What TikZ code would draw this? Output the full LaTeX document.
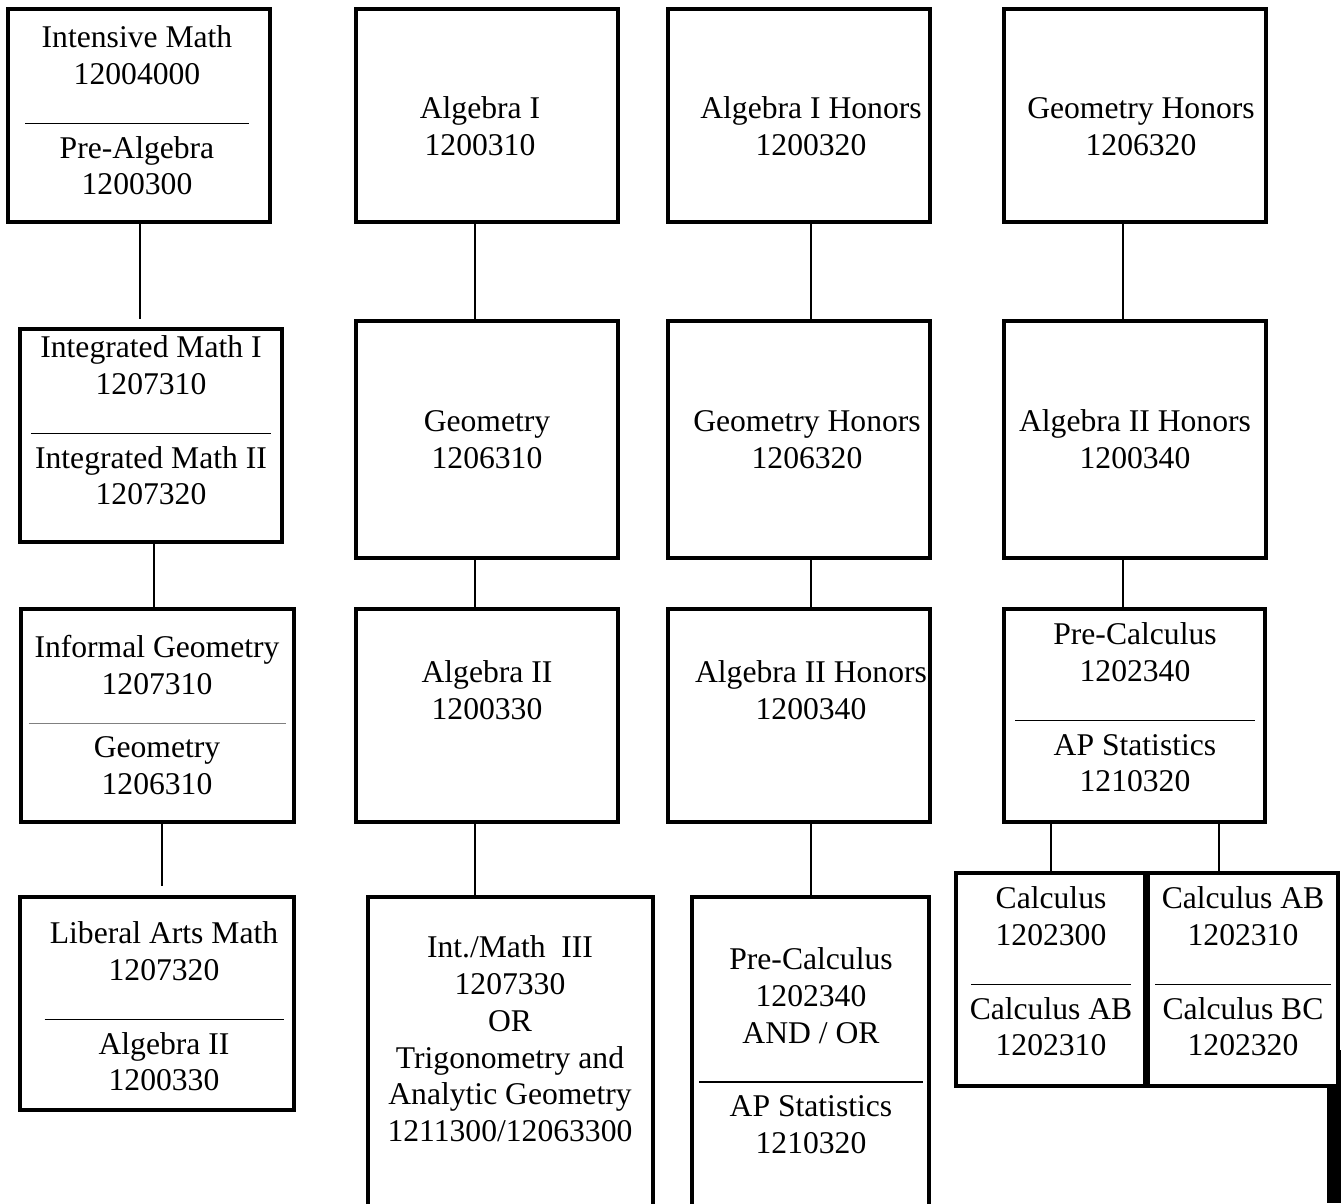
\documentclass[tikz,border=0pt]{standalone}
\usepackage{fontspec}
\setmainfont{Liberation Serif}
\usepackage{tikz}
\usetikzlibrary{fit, positioning}

\newdimen\unitpx \unitpx=0.02cm
\newcommand{\capstrut}{\rule{0pt}{16pt}}
\newcommand{\sepline}[1]{\rule[-1.7pt]{#1\unitpx}{0.9pt}}

\begin{document}
\begin{tikzpicture}[x=0.02cm, y=-0.02cm,
    box/.style={draw, line width=1.8pt, inner sep=0pt},
    txt/.style={anchor=north, yshift=16pt, inner sep=0pt, align=center, font=\fontsize{18}{21}\selectfont},
    link/.style={line width=1.4pt}
]
\clip (0,0) rectangle (1341,1203);

% Column 1 (intensive track)
\node[box, fit={(8,9) (270,222)}] (b1) {};
\node[box, fit={(20,329) (282,542)}] (b2) {};
\node[box, fit={(21,609) (294,822)}] (b3) {};
\node[box, fit={(20,897) (294,1110)}] (b4) {};
\node[txt] (b1t) at (137,47) {\capstrut Intensive Math\\12004000\\\sepline{224}\\Pre-Algebra\\1200300};
\node[txt] (b2t) at (151,357) {\capstrut Integrated Math I\\1207310\\\sepline{240}\\Integrated Math II\\1207320};
\node[txt] (b3t) at (157,657) {\capstrut Informal Geometry\\1207310\\[-3.1pt]{\color{gray}\rule[1pt]{257\unitpx}{0.6pt}}\\[-3.1pt]Geometry\\1206310};
\node[txt] (b4t) at (164,943) {\capstrut Liberal Arts Math\\1207320\\\sepline{239}\\Algebra II\\1200330};

% Column 2 (standard track)
\node[box, fit={(356,9) (618,222)}] (c1) {};
\node[box, fit={(356,321) (618,558)}] (c2) {};
\node[box, fit={(356,609) (618,822)}] (c3) {};
\node[box, fit={(368,897) (653,1220)}] (c4) {};
\node[txt] (c1t) at (480,118) {\capstrut Algebra I\\1200310};
\node[txt] (c2t) at (487,431) {\capstrut Geometry\\1206310};
\node[txt] (c3t) at (487,682) {\capstrut Algebra II\\1200330};
\node[txt] (c4t) at (510,957) {\capstrut Int./Math\ \ III\\1207330\\OR\\Trigonometry and\\Analytic Geometry\\1211300/12063300};

% Column 3 (honors track)
\node[box, fit={(668,9) (930,222)}] (d1) {};
\node[box, fit={(668,321) (930,558)}] (d2) {};
\node[box, fit={(668,609) (930,822)}] (d3) {};
\node[box, fit={(692,897) (929,1220)}] (d4) {};
\node[txt] (d1t) at (811,118) {\capstrut Algebra I Honors\\1200320};
\node[txt] (d2t) at (807,431) {\capstrut Geometry Honors\\1206320};
\node[txt] (d3t) at (811,682) {\capstrut Algebra II Honors\\1200340};
\node[txt] (d4t) at (811,969) {\capstrut Pre-Calculus\\1202340\\AND / OR\\\sepline{224}\\AP Statistics\\1210320};

% Column 4 (accelerated track)
\node[box, fit={(1004,9) (1266,222)}] (e1) {};
\node[box, fit={(1004,321) (1266,558)}] (e2) {};
\node[box, fit={(1004,609) (1265,822)}] (e3) {};
\node[box, fit={(956,873) (1145,1086)}] (e4a) {};
\node[box, fit={(1148,873) (1338,1086)}] (e4b) {};
\node[txt] (e1t) at (1141,118) {\capstrut Geometry Honors\\1206320};
\node[txt] (e2t) at (1135,431) {\capstrut Algebra II Honors\\1200340};
\node[txt] (e3t) at (1135,644) {\capstrut Pre-Calculus\\1202340\\\sepline{240}\\AP Statistics\\1210320};
\node[txt] (e4at) at (1051,908) {\capstrut Calculus\\1202300\\\sepline{160}\\Calculus AB\\1202310};
\node[txt] (e4bt) at (1243,908) {\capstrut Calculus AB\\1202310\\\sepline{176}\\Calculus BC\\1202320};

% Edge bar
\fill (1327,1086) rectangle (1341,1203);
\fill (1337,1050) rectangle (1341,1086);

% Links
\draw[link, shorten >=5pt] (b1.south -| 140,0) -- (b2.north -| 140,0);
\draw[link] (b2.south -| 154,0) -- (b3.north -| 154,0);
\draw[link, shorten >=5.6pt] (b3.south -| 162,0) -- (b4.north -| 162,0);
\draw[link] (c1.south -| 475,0) -- (c2.north -| 475,0);
\draw[link] (c2.south -| 475,0) -- (c3.north -| 475,0);
\draw[link] (c3.south -| 475,0) -- (c4.north -| 475,0);
\draw[link] (d1.south -| 811,0) -- (d2.north -| 811,0);
\draw[link] (d2.south -| 811,0) -- (d3.north -| 811,0);
\draw[link] (d3.south -| 811,0) -- (d4.north -| 811,0);
\draw[link] (e1.south -| 1123,0) -- (e2.north -| 1123,0);
\draw[link] (e2.south -| 1123,0) -- (e3.north -| 1123,0);
\draw[link] (e3.south -| 1051,0) -- (e4a.north -| 1051,0);
\draw[link] (e3.south -| 1219,0) -- (e4b.north -| 1219,0);

\end{tikzpicture}
\end{document}
